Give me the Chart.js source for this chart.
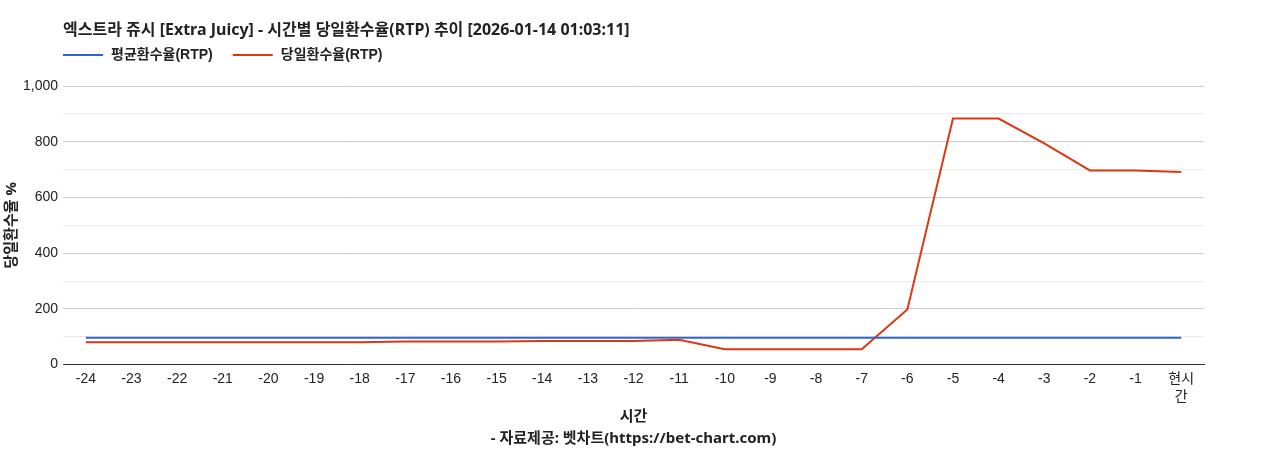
<!DOCTYPE html>
<html lang="ko">
<head>
  <meta charset="UTF-8">
  <title>엑스트라 쥬시 RTP</title>
  <script src="https://cdn.jsdelivr.net/npm/chart.js"></script>
  <style>
    body { margin: 0; padding: 0; background: #fff; }
    .wrap { width: 1268px; height: 450px; position: relative; }
  </style>
</head>
<body>
  <div class="wrap"><canvas id="rtp-chart"></canvas></div>

  <script>
    // 데이터
    const hours = ['-24','-23','-22','-21','-20','-19','-18','-17','-16','-15','-14','-13',
                   '-12','-11','-10','-9','-8','-7','-6','-5','-4','-3','-2','-1',['현시','간']];
    const avgRtp = [96,96,96,96,96,96,96,96,96,96,96,96,96,96,96,96,96,96,96,96,96,96,96,96,96];
    const dailyRtp = [80,80,80,80,80,80,80,83,83,83,85,85,85,89,55,55,55,55,198,883,883,794,697,697,691];
    const seriesNames = ['평균환수율(RTP)', '당일환수율(RTP)'];
    const titleText = '엑스트라 쥬시 [Extra Juicy] - 시간별 당일환수율(RTP) 추이 [2026-01-14 01:03:11]';

    const FONT = "Arial, 'Liberation Sans', 'Noto Sans CJK KR', sans-serif";
    const TITLE_FONT = "'Noto Sans', 'Noto Sans CJK KR', sans-serif";

    // 제목 + 범례 (차트 영역 왼쪽에 맞춤)
    const headerPlugin = {
      id: 'header',
      afterDraw(chart) {
        const ctx = chart.ctx;
        const left = chart.chartArea.left;
        ctx.save();
        ctx.textBaseline = 'middle';
        ctx.fillStyle = '#222';
        ctx.font = 'bold 16px ' + TITLE_FONT;
        ctx.fillText(titleText, left, 30);

        let x = left;
        chart.data.datasets.forEach(ds => {
          ctx.strokeStyle = ds.borderColor;
          ctx.lineWidth = 2;
          ctx.beginPath();
          ctx.moveTo(x, 55);
          ctx.lineTo(x + 40, 55);
          ctx.stroke();
          x += 48;
          ctx.fillStyle = '#222';
          ctx.font = 'bold 14px ' + FONT;
          ctx.fillText(ds.label, x, 55);
          x += ctx.measureText(ds.label).width + 20;
        });
        ctx.restore();
      }
    };

    new Chart(document.getElementById('rtp-chart'), {
      type: 'line',
      data: {
        labels: hours,
        datasets: [{
          label: seriesNames[0],
          data: avgRtp,
          borderColor: '#3366cc',
          backgroundColor: '#3366cc',
          borderWidth: 2,
          pointRadius: 0,
          tension: 0
        }, {
          label: seriesNames[1],
          data: dailyRtp,
          borderColor: '#dc3912',
          backgroundColor: '#dc3912',
          borderWidth: 2,
          pointRadius: 0,
          tension: 0
        }]
      },
      options: {
        responsive: true,
        maintainAspectRatio: false,
        animation: false,
        layout: { padding: { top: 86, right: 64, left: 0, bottom: 0 } },
        plugins: {
          legend: { display: false },
          title: { display: false },
          tooltip: { enabled: false }
        },
        scales: {
          x: {
            offset: true,
            grid: { display: false },
            border: { color: '#333', width: 1 },
            ticks: {
              color: '#222',
              font: { family: FONT, size: 14, lineHeight: 1.3 },
              maxRotation: 0,
              autoSkip: false,
              padding: -3
            },
            title: {
              display: true,
              text: ['시간', '- 자료제공: 벳차트(https://bet-chart.com)'],
              color: '#222',
              font: { family: TITLE_FONT, size: 15, weight: 'bold', lineHeight: 1.5 },
              padding: { top: 2, bottom: 0 }
            }
          },
          y: {
            min: 0,
            max: 1000,
            border: { display: false },
            grid: {
              drawTicks: false,
              color: c => c.tick.value === 0 ? '#333' : (c.tick.value % 200 === 0 ? '#cccccc' : '#ebebeb')
            },
            ticks: {
              stepSize: 100,
              color: '#222',
              padding: 5,
              font: { family: FONT, size: 14 },
              callback: v => v % 200 === 0 ? v.toLocaleString('en-US') : ''
            },
            title: {
              display: true,
              text: '당일환수율 %',
              color: '#222',
              font: { family: TITLE_FONT, size: 15, weight: 'bold', lineHeight: 1 },
              padding: { top: 4, bottom: -1 }
            }
          }
        }
      },
      plugins: [headerPlugin]
    });
  </script>
</body>
</html>
